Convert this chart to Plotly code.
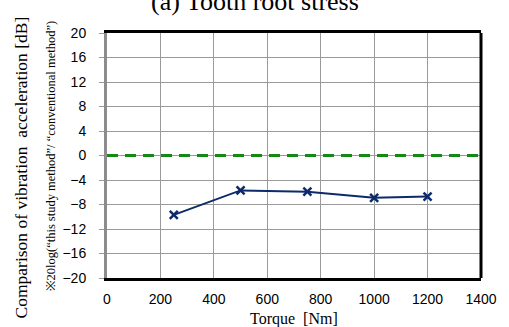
import plotly.graph_objects as go

torque = [250, 500, 750, 1000, 1200]
ratio_db = [-9.7, -5.7, -5.9, -6.9, -6.7]
ref_x = [0, 1400]
ref_y = [0, 0]
x_ticks = [0, 200, 400, 600, 800, 1000, 1200, 1400]
y_ticks = [-20, -16, -12, -8, -4, 0, 4, 8, 12, 16, 20]

fig = go.Figure()
fig.add_trace(go.Scatter(x=ref_x, y=ref_y, mode="lines",
                         line=dict(color="#138a13", width=3, dash="11px,7px"),
                         showlegend=False))
fig.add_trace(go.Scatter(x=torque, y=ratio_db, mode="lines+markers",
                         line=dict(color="#0d2a6b", width=2),
                         marker=dict(symbol="x-thin", size=8, color="#0d2a6b",
                                     line=dict(width=2.5, color="#0d2a6b")),
                         showlegend=False))

fig.update_layout(
    width=509, height=327,
    margin=dict(l=107, r=24, t=33, b=49),
    paper_bgcolor="white", plot_bgcolor="white",
    font=dict(family="Liberation Sans", size=14, color="black"),
    xaxis=dict(range=[0, 1400], tickvals=x_ticks, showgrid=True,
               gridcolor="#9a9a9a", gridwidth=1, zeroline=False,
               showline=True, linecolor="black", linewidth=3, mirror=True,
               ticks="outside", ticklen=6, tickcolor="rgba(0,0,0,0)",
               tickfont=dict(size=14)),
    yaxis=dict(range=[-20, 20], tickvals=y_ticks, showgrid=True,
               gridcolor="#9a9a9a", gridwidth=1, zeroline=False,
               showline=True, linecolor="#8c8c8c", linewidth=3, mirror=False,
               ticks="outside", ticklen=5, tickcolor="#9a9a9a",
               ticklabelstandoff=10, tickfont=dict(size=14)),
    shapes=[dict(type="line", xref="paper", yref="paper", x0=1, x1=1, y0=0, y1=1,
                 line=dict(color="black", width=3))],
    annotations=[
        dict(text="(a) Tooth root stress", x=(257 - 107) / 378, y=1.0,
             xref="paper", yref="paper",
             xanchor="center", yanchor="middle", yshift=32, showarrow=False,
             font=dict(family="Liberation Serif", size=26)),
        dict(text="Torque  [Nm]", x=0.5, y=0, xref="paper", yref="paper",
             xanchor="center", yanchor="top", yshift=-30, showarrow=False,
             font=dict(family="Liberation Serif", size=16)),
        dict(text="Comparison of vibration  acceleration [dB]", x=0, y=0.5,
             xref="paper", yref="paper", xanchor="center", yanchor="middle",
             xshift=-87, yshift=-12, textangle=-90, showarrow=False,
             font=dict(family="Liberation Serif", size=17.5)),
        dict(text="※20log(“this study method”/ “conventional method”)", x=0, y=0.5,
             xref="paper", yref="paper", xanchor="center", yanchor="middle",
             xshift=-57, textangle=-90, showarrow=False,
             font=dict(family="Liberation Serif", size=12.5)),
    ],
)

fig.write_html("out.html", config={"displayModeBar": False},
               post_script="document.body.style.margin='0';")
